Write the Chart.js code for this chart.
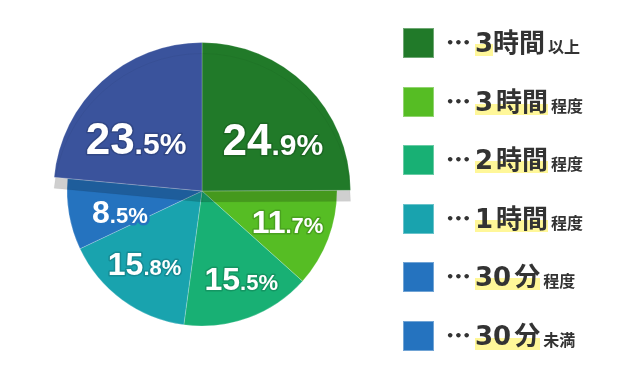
<!DOCTYPE html>
<html lang="ja">
<head>
<meta charset="utf-8">
<script src="https://cdn.jsdelivr.net/npm/chart.js@4/dist/chart.umd.min.js"></script>
<style>
  body { margin: 0; background: #fff; }
  #wrap { position: relative; width: 640px; height: 380px; overflow: hidden; }
  #grafico { position: absolute; left: 0; top: 0; }
  .item { position: absolute; left: 403px; height: 30px; display: flex; align-items: center; color: #333; white-space: nowrap; }
  .box { width: 29px; height: 28px; border: 1px solid rgba(255,255,255,0.35); box-sizing: content-box; }
  .dots { margin-left: 12px; width: 26px; font: bold 13px "DejaVu Sans"; line-height: 30px; letter-spacing: 0px; }
  .main { margin-left: 3px; font: bold 26px "DejaVu Sans", "Noto Sans CJK JP"; line-height: 30px; }
  .hl { background: linear-gradient(transparent 55%, #fff799 55%, #fff799 95%, transparent 95%); }
  .sub { margin-left: 3px; font: bold 16px "Noto Sans CJK JP"; position: relative; top: 3px; }
</style>
</head>
<body>
<div id="wrap">
  <canvas id="grafico" width="640" height="380"></canvas>
  <div id="legenda"></div>
</div>
<script>
// Dados do gráfico
const categorias = ["3時間以上", "3時間程度", "2時間程度", "1時間程度", "30分程度", "30分未満"];
const valores = [24.9, 11.7, 15.5, 15.8, 8.5, 23.5];
const cores = ["#217a29", "#56bd24", "#18b074", "#19a3ae", "#2573bf", "#3a539c"];
// legenda: parte grande + parte pequena
const legendaNum = ["3", "3", "2", "1", "30", "30"];
const legendaUnidade = ["時間", "時間", "時間", "時間", "分", "分"];
const legendaSub = ["以上", "程度", "程度", "程度", "程度", "未満"];
const legendaCores = ["#217a29", "#56bd24", "#18b074", "#19a3ae", "#2573bf", "#2573bf"];

// fatias de cima ficam "levantadas"
const elevada = [true, false, false, false, false, true];
// ajustes finos dos rótulos (px)
const ajusteRotulo = [[8, 11], [1, -2], [8, 3], [-4, 0], [7, 5], [-6, 13]];

// Legenda em HTML
const legenda = document.getElementById("legenda");
categorias.forEach((c, i) => {
  const div = document.createElement("div");
  div.className = "item";
  div.style.top = (28 + i * 58.6) + "px";
  let principal;
  if (i === 0) {
    principal = `<span class="hl">${legendaNum[i]}</span>${legendaUnidade[i]}`;
  } else {
    principal = `<span class="hl">${legendaNum[i]}<span style="margin-left:3px">${legendaUnidade[i]}</span></span>`;
  }
  div.innerHTML = `<span class="box" style="background:${legendaCores[i]}"></span>` +
    `<span class="dots">•••</span>` +
    `<span class="main">${principal}</span>` +
    `<span class="sub">${legendaSub[i]}</span>`;
  legenda.appendChild(div);
});

function escurecer(hex, f) {
  const n = parseInt(hex.slice(1), 16);
  const r = Math.round(((n >> 16) & 255) * f);
  const g = Math.round(((n >> 8) & 255) * f);
  const b = Math.round((n & 255) * f);
  return `rgb(${r},${g},${b})`;
}

// Desenha as fatias de baixo primeiro e depois as de cima, maiores e com sombra
const pizzaElevada = {
  id: "pizzaElevada",
  beforeDatasetsDraw(chart) {
    const ctx = chart.ctx;
    const meta = chart.getDatasetMeta(0);
    const raio = meta.controller.outerRadius;
    meta.data.forEach((arc, i) => {
      if (!elevada[i]) arc.draw(ctx);
    });
    ctx.save();
    ctx.shadowColor = "rgba(0,0,0,0.19)";
    ctx.shadowOffsetX = 0;
    ctx.shadowOffsetY = 11;
    ctx.shadowBlur = 0;
    meta.data.forEach((arc, i) => {
      if (elevada[i]) {
        arc.outerRadius = raio * 1.1;
        arc.draw(ctx);
      }
    });
    ctx.restore();
    return false;
  },
  afterDraw(chart) {
    const ctx = chart.ctx;
    const meta = chart.getDatasetMeta(0);
    meta.data.forEach((arc, i) => {
      const meio = (arc.startAngle + arc.endAngle) / 2;
      const r = arc.outerRadius * (elevada[i] ? 0.6 : 0.67);
      const cx = arc.x + Math.cos(meio) * r + ajusteRotulo[i][0];
      const cy = arc.y + Math.sin(meio) * r + ajusteRotulo[i][1];
      const txt = valores[i].toFixed(1);
      const inteiro = txt.split(".")[0];
      const resto = "." + txt.split(".")[1] + "%";
      const grande = elevada[i] ? 44 : 32;
      const pequeno = elevada[i] ? 30 : 22;
      ctx.save();
      ctx.font = `bold ${grande}px "Liberation Sans"`;
      const w1 = ctx.measureText(inteiro).width;
      ctx.font = `bold ${pequeno}px "Liberation Sans"`;
      const w2 = ctx.measureText(resto).width;
      const x0 = cx - (w1 + w2) / 2;
      const base = cy + grande * 0.36;
      ctx.lineJoin = "round";
      ctx.lineWidth = i === 4 ? 5 : 3;
      ctx.strokeStyle = i === 4 ? cores[i] : escurecer(cores[i], 0.85);
      ctx.fillStyle = "#fff";
      ctx.font = `bold ${grande}px "Liberation Sans"`;
      ctx.strokeText(inteiro, x0, base);
      ctx.font = `bold ${pequeno}px "Liberation Sans"`;
      ctx.strokeText(resto, x0 + w1, base);
      ctx.font = `bold ${grande}px "Liberation Sans"`;
      ctx.fillText(inteiro, x0, base);
      ctx.font = `bold ${pequeno}px "Liberation Sans"`;
      ctx.fillText(resto, x0 + w1, base);
      ctx.restore();
    });
  }
};

const ctx = document.getElementById("grafico").getContext("2d");
const grafico = new Chart(ctx, {
  type: "pie",
  data: {
    labels: categorias,
    datasets: [{
      data: valores,
      backgroundColor: cores,
      borderColor: "rgba(255,255,255,0.22)",
      borderWidth: 1,
    }],
  },
  options: {
    responsive: false,
    animation: false,
    events: [],
    radius: 135,
    layout: { padding: { left: 0, right: 236, top: 2, bottom: 0 } },
    plugins: {
      legend: { display: false },
      tooltip: { enabled: false },
    },
  },
  plugins: [pizzaElevada],
});
</script>
</body>
</html>
